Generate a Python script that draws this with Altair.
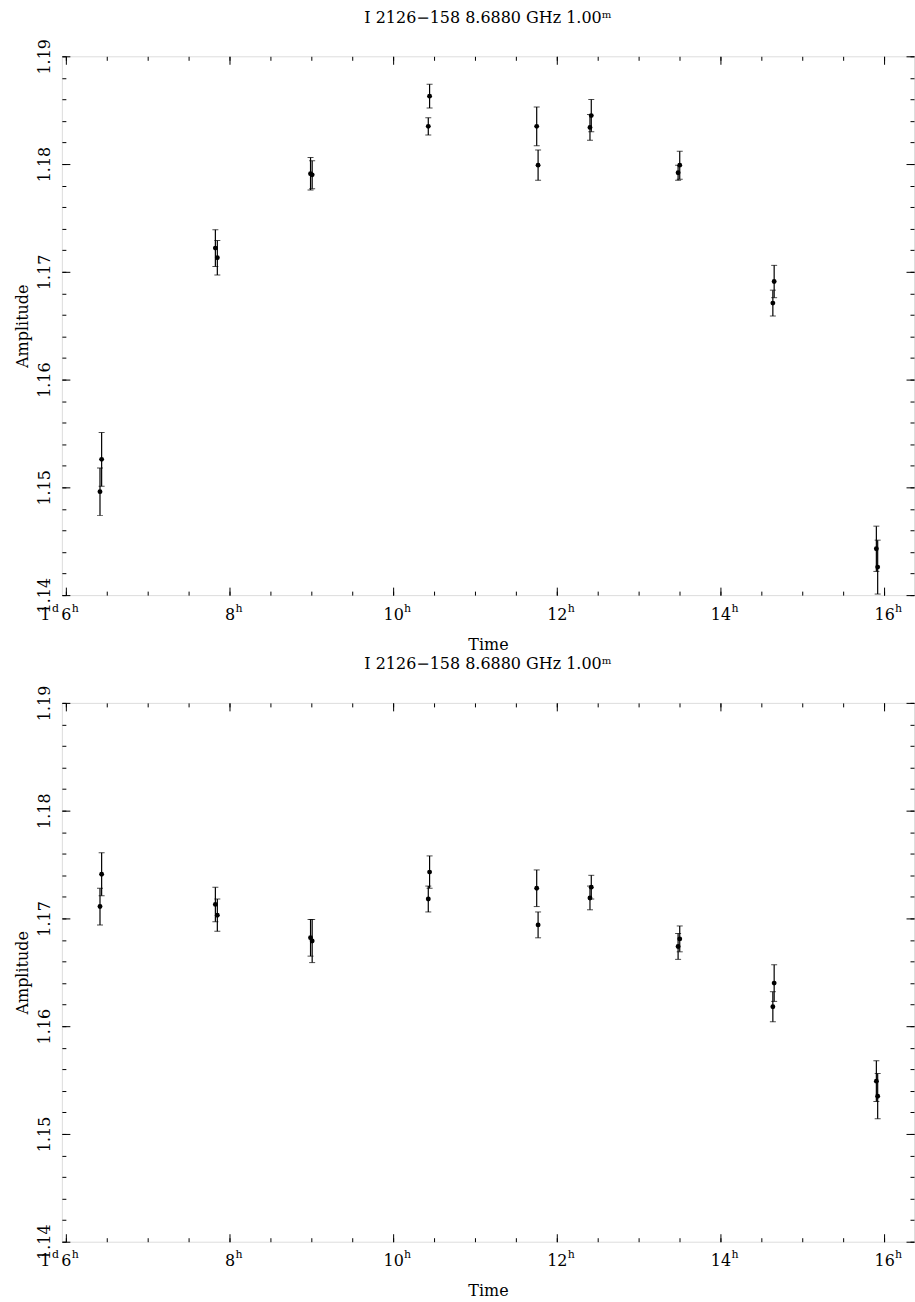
import altair as alt
import pandas as pd

# ---- data ----
times = [6.417, 6.437, 7.827, 7.851, 8.990, 9.010, 10.429, 10.445, 11.754, 11.771,
         12.405, 12.421, 13.482, 13.502, 14.640, 14.656, 15.905, 15.921]

amp_top = [1.1496, 1.1526, 1.1722, 1.1713, 1.1791, 1.1790, 1.1835, 1.1863, 1.1835, 1.1799,
           1.1834, 1.1845, 1.1792, 1.1799, 1.1671, 1.1691, 1.1443, 1.1426]
err_top = [0.0022, 0.0025, 0.0017, 0.0016, 0.0015, 0.0013, 0.0008, 0.0011, 0.0018, 0.0014,
           0.0012, 0.0015, 0.0007, 0.0013, 0.0012, 0.0015, 0.0021, 0.0025]

amp_bot = [1.1711, 1.1741, 1.1713, 1.1703, 1.1682, 1.1679, 1.1718, 1.1743, 1.1728, 1.1694,
           1.1719, 1.1729, 1.1674, 1.1681, 1.1618, 1.1640, 1.1549, 1.1535]
err_bot = [0.0017, 0.0020, 0.0016, 0.0015, 0.0017, 0.0020, 0.0012, 0.0015, 0.0017, 0.0012,
           0.0011, 0.0011, 0.0012, 0.0012, 0.0014, 0.0017, 0.0019, 0.0021]

x_major = [6, 8, 10, 12, 14, 16]
x_minor = [6 + 0.5 * i for i in range(21)]
y_major = [1.14, 1.15, 1.16, 1.17, 1.18, 1.19]
y_minor = [round(1.14 + 0.002 * i, 3) for i in range(26)]
day_tick = [6]          # the first tick also carries the day "1ᵈ"

title_text = "I 2126\u2212158 8.6880 GHz 1.00\u1d50"
x_title = "Time"
y_title = "Amplitude"

FONT = "DejaVu Serif"
FS = 16
SUP = 11
XDOM = [5.951, 16.365]
YDOM = [1.14, 1.19]
W = 854
H = 540


def panel(amps, errs):
    df = pd.DataFrame({
        "t": times,
        "a": amps,
        "lo": [a - e for a, e in zip(amps, errs)],
        "hi": [a + e for a, e in zip(amps, errs)],
    })
    xs = alt.Scale(domain=XDOM, nice=False, zero=False)
    ys = alt.Scale(domain=YDOM, nice=False, zero=False)
    base = alt.Chart(df)

    def tick_layer(xorient, yorient, xvals, yvals, size):
        return base.mark_point(opacity=0).encode(
            x=alt.X("t:Q", scale=xs, axis=alt.Axis(
                orient=xorient, offset=-H, values=xvals, tickSize=size,
                labels=False, domain=False, grid=False, title=None,
                tickColor="black", tickWidth=1)),
            y=alt.Y("a:Q", scale=ys, axis=alt.Axis(
                orient=yorient, offset=-W, values=yvals, tickSize=size,
                labels=False, domain=False, grid=False, title=None,
                tickColor="black", tickWidth=1)),
        )

    def xlabel_layer(vals, expr, size, offset, padding):
        return base.mark_point(opacity=0).encode(
            x=alt.X("t:Q", scale=xs, axis=alt.Axis(
                orient="bottom", values=vals, tickSize=0, domain=False, grid=False,
                labelExpr=expr, labelOffset=offset, labelFont=FONT, labelFontSize=size,
                labelColor="black", labelPadding=padding, title=None)),
            y=alt.Y("a:Q", scale=ys, axis=None),
        )

    labels = base.mark_point(opacity=0).encode(
        x=alt.X("t:Q", scale=xs, axis=alt.Axis(
            orient="bottom", values=x_major, tickSize=0, domain=False, grid=False,
            labelExpr="'' + datum.value",
            labelFont=FONT, labelFontSize=FS, labelColor="black", labelPadding=11,
            title=x_title, titleFont=FONT, titleFontSize=FS, titleFontWeight="normal",
            titleColor="black", titlePadding=14)),
        y=alt.Y("a:Q", scale=ys, axis=alt.Axis(
            orient="left", values=y_major, format=".2f", tickSize=0, domain=False,
            grid=False, labelAngle=270, labelAlign="center", labelBaseline="alphabetic",
            labelFont=FONT, labelFontSize=FS, labelColor="black", labelPadding=12,
            title=y_title, titleFont=FONT, titleFontSize=FS, titleFontWeight="normal",
            titleColor="black", titlePadding=6)),
    )

    sup_h = xlabel_layer(x_major, "'h'", SUP,
                         {"condition": {"test": "datum.value >= 10", "value": 14}, "value": 9}, 7)
    day_1 = xlabel_layer(day_tick, "'1'", FS, -21, 11)
    sup_d = xlabel_layer(day_tick, "'d'", SUP, -11, 7)

    bars = base.mark_rule(color="black", strokeWidth=1.2, clip=True).encode(
        x=alt.X("t:Q", scale=xs, axis=None),
        y=alt.Y("lo:Q", scale=ys, axis=None),
        y2="hi:Q",
    )
    cap_lo = base.mark_tick(color="black", orient="horizontal", size=6, thickness=1, clip=True).encode(
        x=alt.X("t:Q", scale=xs, axis=None),
        y=alt.Y("lo:Q", scale=ys, axis=None),
    )
    cap_hi = base.mark_tick(color="black", orient="horizontal", size=6, thickness=1, clip=True).encode(
        x=alt.X("t:Q", scale=xs, axis=None),
        y=alt.Y("hi:Q", scale=ys, axis=None),
    )
    pts = base.mark_circle(color="black", size=24, opacity=1, clip=True).encode(
        x=alt.X("t:Q", scale=xs, axis=None),
        y=alt.Y("a:Q", scale=ys, axis=None),
    )

    layers = alt.layer(
        labels, sup_h, day_1, sup_d,
        tick_layer("top", "right", x_major, y_major, 8),
        tick_layer("bottom", "left", x_major, y_major, 8),
        tick_layer("top", "right", x_minor, y_minor, 4),
        tick_layer("bottom", "left", x_minor, y_minor, 4),
        bars, cap_lo, cap_hi, pts,
    ).resolve_axis(x="independent", y="independent").properties(
        width=W, height=H,
        title=alt.TitleParams(title_text, font=FONT, fontSize=FS, fontWeight="normal",
                              color="black", anchor="middle", offset=13),
    )
    return layers


chart = alt.vconcat(panel(amp_top, err_top), panel(amp_bot, err_bot), spacing=2).properties(
    padding={"left": 14, "top": 7, "right": 0, "bottom": 0},
).configure_view(stroke="black", strokeWidth=1).configure(background="white")

chart.save("out.html", embed_options={"renderer": "svg", "actions": False})
